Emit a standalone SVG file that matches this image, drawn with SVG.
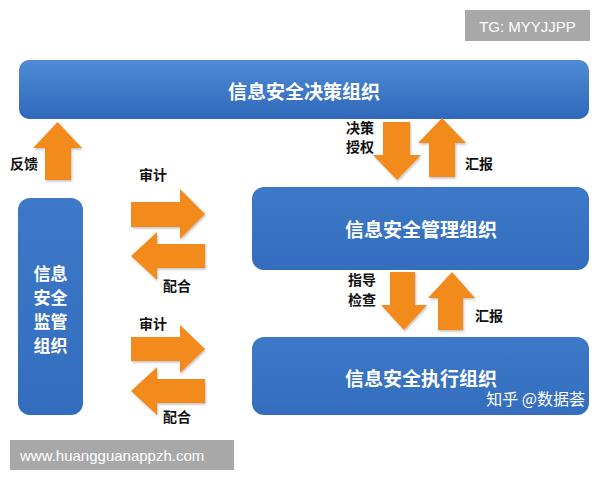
<svg xmlns="http://www.w3.org/2000/svg" width="600" height="480" viewBox="0 0 600 480">
<defs>
<linearGradient id="blue" x1="0" y1="0" x2="0" y2="1">
<stop offset="0" stop-color="#4f8bd6"/>
<stop offset="1" stop-color="#2f68b9"/>
</linearGradient>
<linearGradient id="blue2" x1="0" y1="0" x2="0" y2="1">
<stop offset="0" stop-color="#3d79c8"/>
<stop offset="1" stop-color="#346dbd"/>
</linearGradient>
<filter id="sh" x="-20%" y="-20%" width="140%" height="140%">
<feDropShadow dx="1" dy="1.5" stdDeviation="1.2" flood-color="#000" flood-opacity="0.25"/>
</filter>
</defs>
<style>
.node{fill:url(#blue2)}
.top{fill:url(#blue)}
.ntxt{font-family:"Noto Sans CJK SC","Noto Sans",sans-serif;font-weight:bold;font-size:19px;fill:#ffffff;text-anchor:middle;dominant-baseline:central}
.vtxt{font-family:"Noto Sans CJK SC","Noto Sans",sans-serif;font-weight:bold;font-size:17px;fill:#ffffff;text-anchor:middle;dominant-baseline:central}
.lbl{font-family:"Noto Sans CJK SC","Noto Sans",sans-serif;font-weight:bold;font-size:14px;fill:#111111;dominant-baseline:central}
.arr{fill:#f28a1f;filter:url(#sh)}
.wm{font-family:"Liberation Sans","Noto Sans",sans-serif;font-size:15px;fill:#ffffff;dominant-baseline:central}
</style>
<rect width="600" height="480" fill="#ffffff"/>

<g id="tg">
<rect x="465" y="10" width="125" height="31" fill="#a8a8a8"/>
<text class="wm" x="527.5" y="26" text-anchor="middle">TG: MYYJJPP</text>
</g>

<g id="decision">
<rect class="top" x="19" y="60" width="570" height="59" rx="10"/>
<text class="ntxt" x="304" y="90">信息安全决策组织</text>
</g>

<g id="supervision">
<rect class="node" x="18" y="198" width="65" height="217" rx="12"/>
<text class="vtxt" x="50.5" y="272">信息</text>
<text class="vtxt" x="50.5" y="296">安全</text>
<text class="vtxt" x="50.5" y="320">监管</text>
<text class="vtxt" x="50.5" y="344">组织</text>
</g>

<g id="management">
<rect class="node" x="252" y="187" width="337" height="83" rx="12"/>
<text class="ntxt" x="421" y="228">信息安全管理组织</text>
</g>

<g id="execution">
<rect class="node" x="252" y="337" width="337" height="78" rx="12"/>
<text class="ntxt" x="421" y="377">信息安全执行组织</text>
<text x="585" y="398" text-anchor="end" font-family="'Noto Sans CJK SC','Noto Sans',sans-serif" font-size="16" fill="#ffffff" dominant-baseline="central">知乎 @数据荟</text>
</g>

<g id="connectors">
<polygon class="arr" points="45,180 45,148 33,148 57.5,122 82,148 71,148 71,180"/>
<polygon class="arr" points="131,202 180,202 180,189 205,214 180,239 180,227 131,227"/>
<polygon class="arr" points="205,244 157,244 157,232 131,256 157,280 157,268 205,268"/>
<polygon class="arr" points="131,337 180,337 180,325 205,349 180,373 180,361 131,361"/>
<polygon class="arr" points="205,379 157,379 157,367 131,391 157,415 157,403 205,403"/>
<polygon class="arr" points="383,122 410,122 410,155 421,155 397,180 373,155 383,155"/>
<polygon class="arr" points="429,177 429,143 418,143 442,118 466,143 455,143 455,177"/>
<polygon class="arr" points="390,272 415,272 415,305 427,305 404,330 381,305 390,305"/>
<polygon class="arr" points="438,330 438,298 428,298 452,272 475,298 463,298 463,330"/>
</g>

<g id="labels">
<text class="lbl" x="10" y="163">反馈</text>
<text class="lbl" x="139" y="174">审计</text>
<text class="lbl" x="163" y="285">配合</text>
<text class="lbl" x="139" y="323">审计</text>
<text class="lbl" x="163" y="416">配合</text>
<text class="lbl" x="346" y="127">决策</text>
<text class="lbl" x="346" y="146">授权</text>
<text class="lbl" x="465" y="163">汇报</text>
<text class="lbl" x="348" y="279">指导</text>
<text class="lbl" x="348" y="299">检查</text>
<text class="lbl" x="475" y="315">汇报</text>
</g>

<g id="url">
<rect x="10" y="440" width="224" height="30" fill="#a8a8a8"/>
<text class="wm" x="20" y="455" font-size="16">www.huangguanappzh.com</text>
</g>
</svg>
